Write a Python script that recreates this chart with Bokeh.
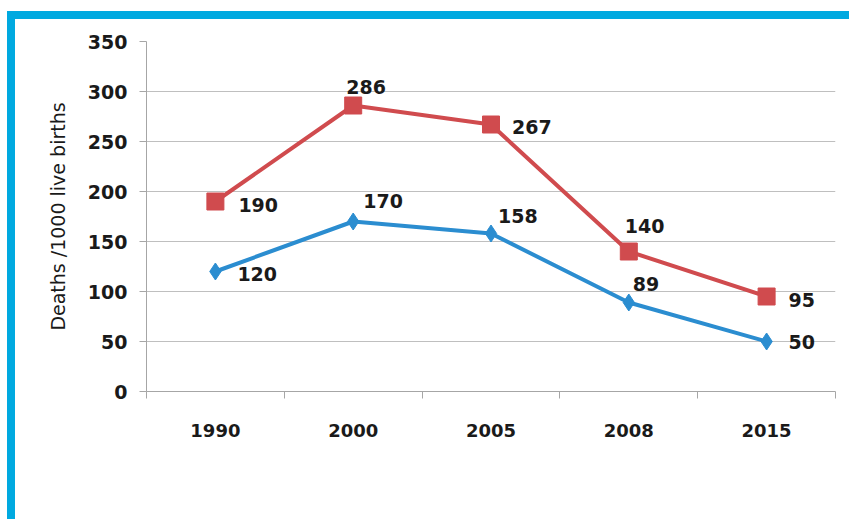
from bokeh.plotting import figure
from bokeh.models import (FactorRange, Range1d, LinearAxis, CategoricalAxis, FixedTicker,
                          ColumnDataSource, LabelSet, Legend, LegendItem)
from bokeh.core.properties import value
from bokeh.embed import file_html
from bokeh.resources import INLINE

years = ["1990", "2000", "2005", "2008", "2015"]
infant = [120, 170, 158, 89, 50]
under_five = [190, 286, 267, 140, 95]
y_ticks = [0, 50, 100, 150, 200, 250, 300, 350]

# label offsets (styling only)
infant_dx = [22, 10, 7, 4, 22]
infant_dy = [-2, 21, 18, 19, 0]
under_dx = [23, -7, 21, -4, 22]
under_dy = [-3, 19, -2, 26, -3]

BLUE = "#2b8dd0"
RED = "#d04b4e"
CYAN = "#00a9e0"
GRID = "#bfbfbf"
AXIS = "#a6a6a6"
NUM_FONT = "DejaVu Sans"

p = figure(frame_width=689, frame_height=350, x_range=FactorRange(*years, range_padding=0),
           y_range=Range1d(0, 350), output_backend="svg", toolbar_location=None,
           x_axis_location=None, min_border_left=131, min_border_right=14,
           min_border_top=22, min_border_bottom=60)
p.styles = {"border-top": f"8px solid {CYAN}", "border-left": f"8px solid {CYAN}",
            "margin-top": "11px", "margin-left": "7px"}
p.outline_line_color = None
p.xgrid.grid_line_color = None
p.ygrid.grid_line_color = GRID
p.ygrid.ticker = FixedTicker(ticks=y_ticks)

# y axis
ya = p.yaxis[0]
ya.ticker = FixedTicker(ticks=y_ticks)
ya.axis_line_color = AXIS
ya.major_tick_line_color = AXIS
ya.major_tick_out = 7
ya.major_tick_in = 0
ya.minor_tick_line_color = None
ya.major_label_standoff = 12
ya.major_label_text_font = NUM_FONT
ya.major_label_text_font_style = "bold"
ya.major_label_text_font_size = "19px"
ya.major_label_text_color = "#1a1a1a"
ya.axis_label = "Deaths /1000 live births"
ya.axis_label_text_font = "DejaVu Sans"
ya.axis_label_text_font_style = "normal"
ya.axis_label_text_font_size = "19px"
ya.axis_label_text_color = "#1a1a1a"
ya.axis_label_standoff = 16

# x axis: ticks at category boundaries (synthetic coords 0..n) + category labels
tick_axis = LinearAxis(ticker=FixedTicker(ticks=list(range(len(years) + 1))),
                       major_label_text_font_size="0px", axis_line_color=AXIS,
                       major_tick_line_color=AXIS, major_tick_out=7, major_tick_in=0,
                       minor_tick_line_color=None, major_label_standoff=0)
p.add_layout(tick_axis, "below")
cat_axis = CategoricalAxis(axis_line_color=None, major_tick_line_color=None,
                           major_label_standoff=19, major_label_text_font=NUM_FONT,
                           major_label_text_font_style="bold", major_label_text_font_size="18px",
                           major_label_text_color="#1a1a1a")
p.add_layout(cat_axis, "below")

src = ColumnDataSource(dict(year=years, infant=infant, under=under_five,
                            infant_txt=[str(v) for v in infant], under_txt=[str(v) for v in under_five],
                            idx=infant_dx, idy=infant_dy, udx=under_dx, udy=under_dy))

l1 = p.line("year", "infant", source=src, color=BLUE, line_width=4)
s1 = p.scatter("year", "infant", source=src, marker="diamond", size=17, color=BLUE)
l2 = p.line("year", "under", source=src, color=RED, line_width=4)
s2 = p.scatter("year", "under", source=src, marker="square", size=17, color=RED)

for col, txt, dx, dy in [("infant", "infant_txt", "idx", "idy"), ("under", "under_txt", "udx", "udy")]:
    p.add_layout(LabelSet(x="year", y=col, text=txt, source=src, x_offset=dx, y_offset=dy,
                          text_font=value(NUM_FONT), text_font_style="bold", text_font_size="19px",
                          text_color="#1a1a1a", text_align="left", text_baseline="middle"))

legend = Legend(items=[LegendItem(label="Infant mortality", renderers=[l1, s1]),
                       LegendItem(label="Under-five mortality", renderers=[l2, s2])],
                orientation="horizontal", location="top_left", glyph_width=48, glyph_height=20,
                label_standoff=5, spacing=42, padding=0, margin=0,
                background_fill_alpha=0, border_line_color=None,
                label_text_font="DejaVu Sans Condensed", label_text_font_style="bold",
                label_text_font_size="16px", label_text_color="#1a1a1a")
p.add_layout(legend, "below")

open("out.html", "w").write(file_html(p, INLINE))
